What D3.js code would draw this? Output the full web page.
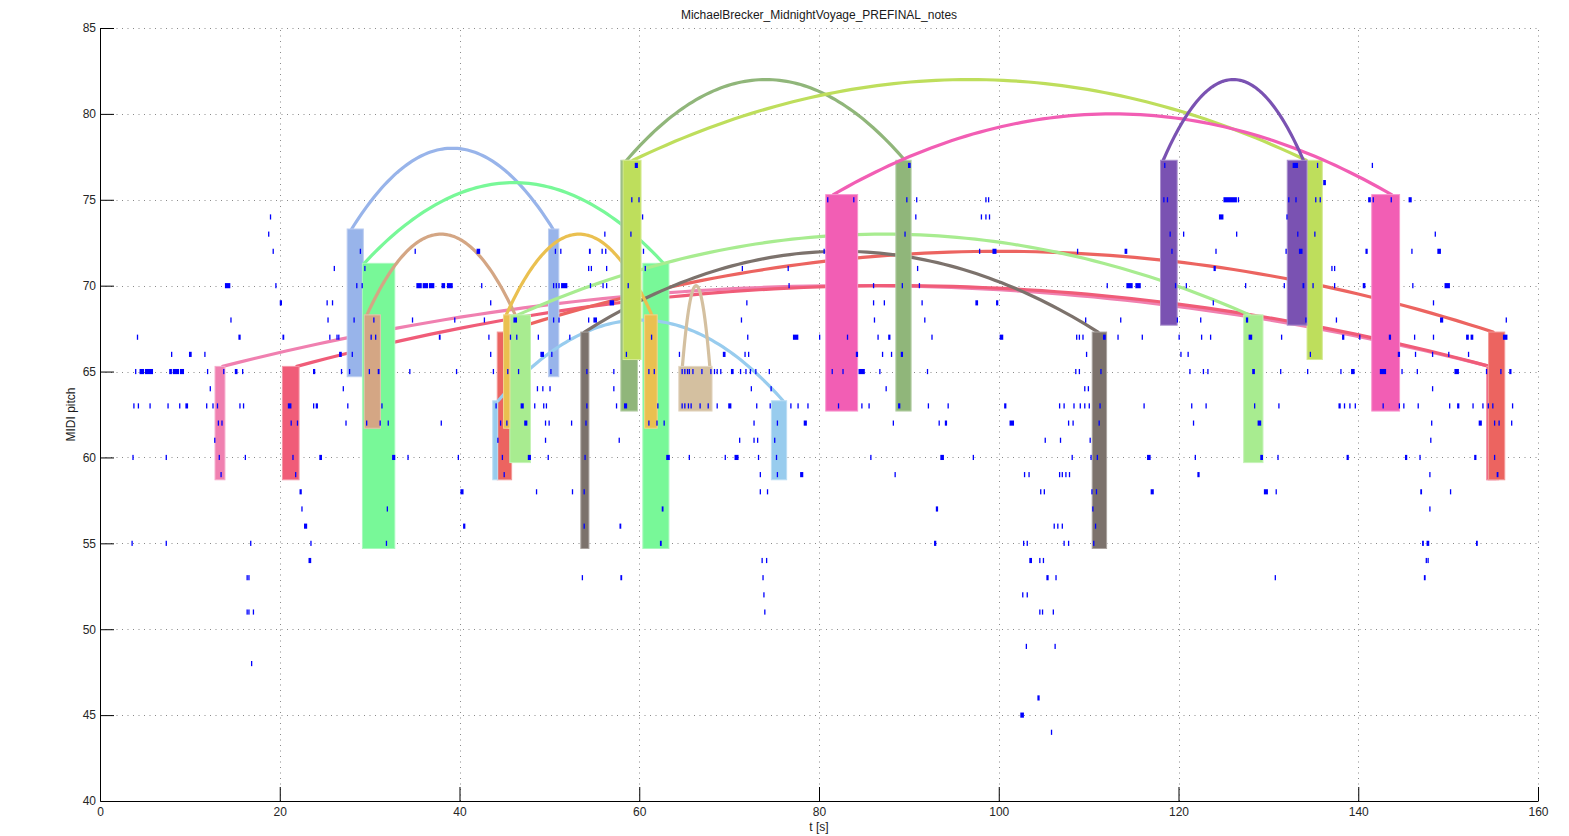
<!DOCTYPE html>
<html>
<head>
<meta charset="utf-8">
<script src="https://cdn.jsdelivr.net/npm/d3@7"></script>
<style>
  body { margin: 0; background: #fff; }
  svg { display: block; font-family: "Liberation Sans", Arial, sans-serif; }
</style>
</head>
<body>
<svg width="1569" height="836"></svg>
<script>
// axis ticks
var xTicks = [0, 20, 40, 60, 80, 100, 120, 140, 160],
    yTicks = [40, 45, 50, 55, 60, 65, 70, 75, 80, 85];

// pattern colours, in drawing order
var groupColors = ["#f080b0", "#f05c78", "#ec6460", "#98b4ea", "#78f898", "#d4a684", "#98ccee",
                   "#7c726c", "#a8ec90", "#eac050", "#d4c0a0", "#90b67a", "#bede5c", "#f25eb4", "#7a52b2"];

// pattern occurrences: [group, t start, t end, pitch low, pitch high]
var blocks = [
  [0, 12.8, 13.9, 58.7, 65.3], [0, 154.3, 155.3, 58.7, 65.3],
  [1, 20.3, 22.15, 58.7, 65.3], [1, 154.3, 155.6, 58.7, 65.3],
  [2, 44.2, 45.8, 58.7, 67.3], [2, 154.5, 156.3, 58.7, 67.3],
  [3, 27.5, 29.3, 64.7, 73.3], [3, 49.9, 51.05, 64.7, 73.3],
  [4, 29.2, 32.8, 54.7, 71.3], [4, 60.4, 63.3, 54.7, 71.3],
  [5, 29.4, 31.2, 61.7, 68.3], [5, 45.4, 46.6, 61.7, 68.3],
  [6, 43.7, 44.25, 58.7, 63.3], [6, 74.7, 76.4, 58.7, 63.3],
  [7, 53.5, 54.4, 54.7, 67.3], [7, 110.4, 112.0, 54.7, 67.3],
  [8, 45.6, 47.9, 59.7, 68.3], [8, 127.25, 129.4, 59.7, 68.3],
  [9, 44.9, 45.6, 61.7, 68.3], [9, 60.6, 62.0, 61.7, 68.3],
  [10, 64.4, 68.1, 62.7, 65.3],
  [11, 57.95, 59.8, 62.7, 77.3], [11, 88.55, 90.25, 62.7, 77.3],
  [12, 58.2, 60.2, 65.7, 77.3], [12, 134.3, 136.0, 65.7, 77.3],
  [13, 80.75, 84.3, 62.7, 75.3], [13, 141.5, 144.6, 62.7, 75.3],
  [14, 118.0, 119.85, 67.7, 77.3], [14, 132.1, 134.3, 67.7, 77.3]
];

// links between occurrences: [group, t from, t to, base pitch]
var arcs = [
  [0, 13.65, 154.6, 65.3], [1, 21.9, 154.6, 65.3], [2, 45.0, 155.0, 67.3],
  [3, 28.0, 50.4, 73.3], [4, 29.4, 62.7, 71.3], [5, 29.7, 46.2, 68.3],
  [6, 44.3, 76.0, 63.3], [7, 53.9, 111.05, 67.3], [8, 46.5, 127.9, 68.3],
  [9, 45.2, 61.4, 68.3], [10, 64.8, 67.85, 65.3], [11, 58.6, 89.55, 77.3],
  [12, 59.3, 134.2, 77.3], [13, 81.6, 143.7, 75.3], [14, 118.3, 133.9, 77.3]
];
var arcRise = 4.7;

// notes: [onset s, MIDI pitch, duration s]  (duration left out = short note)
var notes = [
  [18.9,74],[18.7,73],
  [19.2,72],[28.9,72],[35.0,72],[41.9,72,0.4],
  [26.0,71],[29.4,71],
  [13.9,70,0.6],[19.5,70],[28.5,70],[29.1,70],[35.2,70,0.6],[35.9,70,0.6],[36.6,70,0.6],[38.0,70,0.4],[38.6,70,0.65],[42.4,70],
  [20.0,69,0.25],[25.2,69],[25.8,69],[43.4,69],
  [14.5,68],[25.3,68],[28.2,68],[30.4,68],[34.7,68],[39.4,68],[42.7,68],
  [4.1,67],[15.4,67,0.25],[20.3,67,0.2],[25.5,67],[26.3,67],[26.5,67],[30.1,67],[30.6,67],[37.7,67,0.2],[43.2,67],
  [7.9,66],[9.9,66,0.3],[11.6,66],[26.6,66,0.3],[28.0,66],[43.4,66],
  [3.9,65],[4.4,65,0.5],[5.0,65,0.9],[7.7,65,0.3],[8.1,65,0.7],[8.9,65,0.45],[11.9,65],[13.7,65],[15.0,65,0.3],[15.8,65],
  [23.7,65,0.25],[26.8,65],[27.7,65],[29.9,65],[30.9,65,0.2],[34.4,65],[39.6,65],[43.7,65],
  [12.2,64],[27.0,64],
  [3.7,63],[4.2,63],[5.5,63,0.06],[7.5,63],[8.8,63],[9.5,63,0.3],[11.8,63],[12.5,63],[13.0,63],[15.5,63],[15.9,63],
  [20.9,63,0.4],[23.7,63],[24.0,63,0.25],[27.5,63],[31.3,63],[44.0,63],
  [13.1,62],[13.5,62],[21.2,62],[21.9,62],[27.3,62],[29.6,62],[31.1,62],[32.0,62],[37.9,62],
  [12.7,61],[44.2,61],
  [3.6,60],[7.3,60],[13.2,60],[16.1,60],[21.4,60],[24.4,60,0.3],[32.5,60,0.35],[34.2,60],[39.8,60],
  [13.4,59],[21.7,59],
  [22.2,58,0.25],[40.1,58,0.35],
  [22.4,57],[31.9,57],
  [22.7,56,0.35],[40.4,56,0.25],
  [3.5,55],[7.3,55],[16.7,55],[23.4,55],[31.8,55],
  [23.2,54,0.3],[16.3,53],[16.5,53],[16.3,51],[16.5,51],[17.0,51],[16.8,48],

  [59.5,77,0.35],
  [59.1,75],[59.9,75],[80.9,75],[83.8,75],
  [60.3,74],[56.1,73],[59.0,73],
  [50.6,72],[51.2,72],[54.4,72,0.2],[55.8,72],[56.2,72],[60.4,72],[80.5,72],
  [54.3,71],[54.6,71],[56.3,71],[60.6,71],[71.4,71],[76.5,71],
  [50.4,70],[50.7,70],[51.0,70],[51.3,70,0.7],[54.5,70],[55.9,70],[56.3,70],[58.7,70],[76.6,70],
  [56.7,69,0.5],[71.9,69],
  [46.0,68,0.4],[50.4,68],[51.0,68],[54.3,68],[54.9,68,0.4],[71.3,68],
  [45.6,67],[46.3,67],[48.7,67],[52.2,67],[61.3,67],[72.0,67],[77.1,67,0.6],[80.0,67],[83.1,67],
  [49.0,66,0.4],[50.2,66],[58.5,66],[64.4,66],[69.3,66,0.3],[71.7,66],[72.1,66],[84.2,66],
  [45.3,65],[46.5,65],[50.1,65],[54.1,65],[57.1,65],[61.0,65],[61.6,65],[64.7,65],[65.0,65],[65.3,65],[65.5,65],[65.9,65],
  [66.9,65],[67.9,65],[68.3,65],[68.6,65],[69.0,65],[70.2,65,0.3],[71.2,65],[71.8,65],[72.3,65],[72.9,65],[74.4,65],
  [81.4,65],[82.6,65],[84.4,65,0.7],
  [48.6,64],[49.2,64],[50.0,64],[57.1,64],[72.4,64],[74.6,64],
  [46.8,63,0.35],[48.3,63],[49.3,63],[49.6,63],[54.1,63],[57.4,63],[58.3,63,0.35],[62.0,63],[64.7,63],[65.0,63],[65.4,63],
  [65.7,63],[66.7,63],[67.6,63],[68.6,63],[69.9,63,0.35],[73.0,63],[74.5,63],[76.8,63],[77.6,63],[78.7,63],[82.1,63],
  [44.5,62],[45.2,62],[47.2,62,0.35],[49.5,62],[49.9,62],[52.4,62],[54.0,62],[61.0,62],[61.9,62],[62.7,62],[72.7,62],[75.3,62],[78.3,62,0.35],
  [49.5,61],[57.7,61],[71.1,61],[72.7,61],[73.1,61],[75.0,61],
  [44.7,60],[47.6,60,0.35],[49.8,60],[53.9,60],[63.0,60,0.4],[65.5,60],[69.5,60],[70.6,60,0.45],[73.2,60],[75.2,60],
  [44.9,59],[73.4,59],[75.3,59],[77.9,59,0.35],
  [48.5,58],[52.5,58],[53.8,58],[73.4,58],[74.2,58],
  [62.5,57,0.2],[53.8,56],[57.8,56,0.2],[62.3,55,0.2],[73.6,54],[74.1,54],
  [53.6,53],[57.9,53,0.2],[73.7,53],[73.8,52],[73.9,51],

  [89.9,77,0.3],[118.4,77],
  [89.7,75],[90.8,75],[98.5,75],[98.8,75],[118.3,75],[118.7,75],
  [90.7,74],[98.0,74],[98.5,74],[98.9,74],
  [89.5,73],[119.0,73],[120.5,73],
  [97.8,72],[99.3,72,0.45],[108.7,72],[114.0,72,0.3],[119.2,72],
  [90.9,71],
  [86.0,70],[89.2,70],[91.1,70],[112.0,70],[114.2,70,0.7],[115.2,70,0.6],[119.6,70],[120.8,70],
  [86.0,69],[87.2,69],[91.4,69],[97.4,69,0.3],[99.7,69,0.25],
  [86.1,68],[91.7,68],[109.6,68],[113.5,68],[119.8,68],
  [86.5,67],[87.7,67,0.25],[92.5,67],[100.1,67,0.4],[108.6,67],[108.9,67],[109.3,67],[111.6,67,0.3],[113.2,67],[115.9,67],[120.0,67],
  [84.1,66],[87.0,66],[88.0,66],[89.1,66,0.25],[109.7,66],[120.2,66],[121.0,66],
  [86.7,65],[92.0,65],[108.5,65],[108.9,65],[111.3,65],[121.2,65],[122.7,65],[123.2,65],
  [87.4,64],[109.5,64],[109.9,64],
  [84.7,63],[85.5,63],[88.8,63,0.25],[92.1,63],[94.3,63],[100.6,63,0.25],[106.7,63],[107.2,63],[108.3,63],[109.0,63],
  [109.5,63],[110.0,63],[111.2,63],[116.1,63],[121.4,63],[123.0,63],
  [88.2,62],[93.3,62],[94.0,62,0.25],[101.2,62,0.5],[107.7,62],[108.2,62],[111.1,62],[121.6,62],
  [105.1,61],[106.8,61],[110.1,61],
  [85.7,60],[93.5,60,0.4],[97.1,60],[108.1,60],[110.2,60],[110.9,60],[116.5,60,0.4],[121.8,60],
  [88.4,59],[102.8,59],[103.3,59],[106.7,59],[107.0,59],[107.4,59],[107.8,59],[122.1,59,0.25],
  [104.6,58],[105.0,58],[110.3,58],[110.8,58],[116.9,58,0.35],
  [93.0,57,0.25],[110.4,57],
  [106.1,56],[106.5,56],[107.0,56],[110.7,56],
  [92.8,55,0.25],[102.7,55],[103.1,55],[107.2,55],[107.7,55],[110.5,55],
  [103.4,54,0.3],[104.5,54],[104.9,54],
  [105.3,53,0.25],[106.3,53],[102.6,52],[103.1,52],
  [104.5,51],[104.8,51],[106.0,51],[103.0,49],[106.2,49],[104.3,46,0.25],[102.4,45,0.4],[105.8,44],

  [132.7,77,0.6],[135.4,77],[141.5,77],[136.1,76,0.3],
  [125.0,75,1.5],[126.6,75],[132.2,75],[133.0,75],[135.2,75],[135.7,75],[141.1,75,0.3],[141.6,75],[143.6,75],[145.6,75,0.35],
  [124.5,74,0.5],[132.0,74],
  [126.4,73],[133.2,73],[135.1,73],[148.5,73],
  [124.1,72],[131.9,72],[133.4,72,0.4],[140.8,72,0.25],[145.9,72],[148.8,72,0.4],
  [123.9,71,0.25],[137.0,71],[137.3,71],
  [127.4,70],[131.7,70],[133.8,70,0.2],[134.9,70],[137.3,70],[140.5,70,0.3],[146.0,70],[149.6,70,0.6],
  [123.8,69],[148.3,69],
  [122.4,68],[127.5,68,0.25],[134.1,68],[137.5,68],[149.1,68,0.35],[156.4,68],
  [122.5,67],[123.5,67],[127.8,67,0.4],[131.4,67],[138.2,67,0.25],[140.1,67],[143.4,67,0.25],[146.2,67],[148.3,67],
  [152.0,67,0.3],[152.5,67,0.3],[156.1,67,0.5],
  [134.6,66],[144.4,66,0.25],[146.3,66],[148.2,66],[150.0,66],[152.2,66],
  [128.2,65,0.3],[131.3,65],[134.3,65],[138.0,65],[139.2,65,0.4],[142.4,65,0.7],[144.8,65],[146.5,65],[150.7,65,0.5],
  [154.2,65],[155.8,65],[156.8,65,0.25],
  [148.2,64],
  [128.4,63],[131.1,63],[137.8,63,0.25],[138.4,63],[139.0,63],[139.6,63],[142.7,63],[144.5,63],[145.0,63],[146.6,63],
  [150.1,63],[151.0,63,0.25],[152.7,63],[153.8,63],[154.4,63],[154.9,63],[157.1,63],
  [128.8,62,0.4],[148.1,62],[153.4,62,0.35],[155.1,62],[155.6,62],[157.0,62],
  [148.0,61],
  [129.1,60,0.3],[131.0,60],[138.7,60,0.25],[145.2,60,0.25],[146.8,60],[152.9,60,0.25],[155.1,60],
  [147.9,59],[155.4,59,0.2],
  [129.5,58,0.45],[130.8,58],[146.9,58,0.2],[150.2,58],
  [147.9,57],[147.1,55,0.2],[147.6,55,0.3],[153.1,55,0.2],
  [147.5,54],[147.7,54],[130.7,53],[147.3,53,0.2]
];

var svg = d3.select("svg"),
    margin = {top: 28, right: 31, bottom: 35, left: 100},
    width = +svg.attr("width") - margin.left - margin.right,
    height = +svg.attr("height") - margin.top - margin.bottom;

var x = d3.scaleLinear().domain([0, 160]).range([margin.left, margin.left + width]),
    y = d3.scaleLinear().domain([40, 85]).range([margin.top + height, margin.top]);

// dotted grid
var grid = svg.append("g").attr("stroke", "#8a8a8a").attr("stroke-width", 1).attr("stroke-dasharray", "1,4.5");
grid.selectAll(".gx").data(xTicks).enter().append("line")
    .attr("x1", function(d) { return Math.round(x(d)) + 0.5; })
    .attr("x2", function(d) { return Math.round(x(d)) + 0.5; })
    .attr("y1", y(40)).attr("y2", y(85));
grid.selectAll(".gy").data(yTicks).enter().append("line")
    .attr("y1", function(d) { return Math.round(y(d)) + 0.5; })
    .attr("y2", function(d) { return Math.round(y(d)) + 0.5; })
    .attr("x1", x(0)).attr("x2", x(160));

// patterns: arc first, then its blocks
var arcLine = d3.line().x(function(d) { return x(d[0]); }).y(function(d) { return y(d[1]); });
var layer = svg.append("g");
groupColors.forEach(function(c, gi) {
  var g = layer.append("g");
  arcs.filter(function(a) { return a[0] === gi; }).forEach(function(a) {
    var pts = d3.range(0, 81).map(function(i) {
      var u = i / 80;
      return [a[1] + u * (a[2] - a[1]), a[3] + arcRise * 4 * u * (1 - u)];
    });
    g.append("path").attr("d", arcLine(pts))
      .attr("fill", "none").attr("stroke", c).attr("stroke-width", 3.2)
      .attr("stroke-linecap", "round");
  });
  g.selectAll("rect").data(blocks.filter(function(b) { return b[0] === gi; }))
    .enter().append("rect")
      .attr("x", function(b) { return x(b[1]); })
      .attr("width", function(b) { return x(b[2]) - x(b[1]); })
      .attr("y", function(b) { return y(b[4]); })
      .attr("height", function(b) { return y(b[3]) - y(b[4]); })
      .attr("fill", c)
      .attr("stroke", d3.interpolateRgb(c, "#fff")(0.35))
      .attr("stroke-width", 1);
});

// notes
svg.append("g").selectAll("rect").data(notes).enter().append("rect")
    .attr("x", function(d) { return x(d[0]); })
    .attr("width", function(d) { return Math.max(x(d[0] + (d[2] || 0.12)) - x(d[0]), 1.3); })
    .attr("y", function(d) { return y(d[1] + 0.15); })
    .attr("height", function(d) { return y(d[1] - 0.15) - y(d[1] + 0.15); })
    .attr("fill", "#0000ff");

// axes, ticks pointing inward
var xAxis = svg.append("g")
    .attr("transform", "translate(0," + y(40) + ")")
    .call(d3.axisBottom(x).tickValues(xTicks).tickSizeInner(-14).tickSizeOuter(0).tickPadding(6));
var yAxis = svg.append("g")
    .attr("transform", "translate(" + x(0) + ",0)")
    .call(d3.axisLeft(y).tickValues(yTicks).tickSizeInner(-14).tickSizeOuter(0).tickPadding(4));
[xAxis, yAxis].forEach(function(a) {
  a.attr("font-family", "'Liberation Sans', Arial, sans-serif").attr("font-size", 12);
  a.selectAll("text").attr("fill", "#262626");
});
// hide the end ticks that would sit on the other axis
xAxis.selectAll(".tick").filter(function(d) { return d === 0; }).select("line").remove();
yAxis.selectAll(".tick").filter(function(d) { return d === 40; }).select("line").remove();

svg.append("text")
    .attr("x", (x(0) + x(160)) / 2).attr("y", 19)
    .attr("text-anchor", "middle").attr("font-size", 12).attr("fill", "#1a1a1a")
    .text("MichaelBrecker_MidnightVoyage_PREFINAL_notes");

svg.append("text")
    .attr("x", (x(0) + x(160)) / 2).attr("y", 831)
    .attr("text-anchor", "middle").attr("font-size", 12).attr("fill", "#1a1a1a")
    .text("t [s]");

svg.append("text")
    .attr("transform", "translate(75," + (y(40) + y(85)) / 2 + ") rotate(-90)")
    .attr("text-anchor", "middle").attr("font-size", 12).attr("fill", "#1a1a1a")
    .text("MIDI pitch");
</script>
</body>
</html>
